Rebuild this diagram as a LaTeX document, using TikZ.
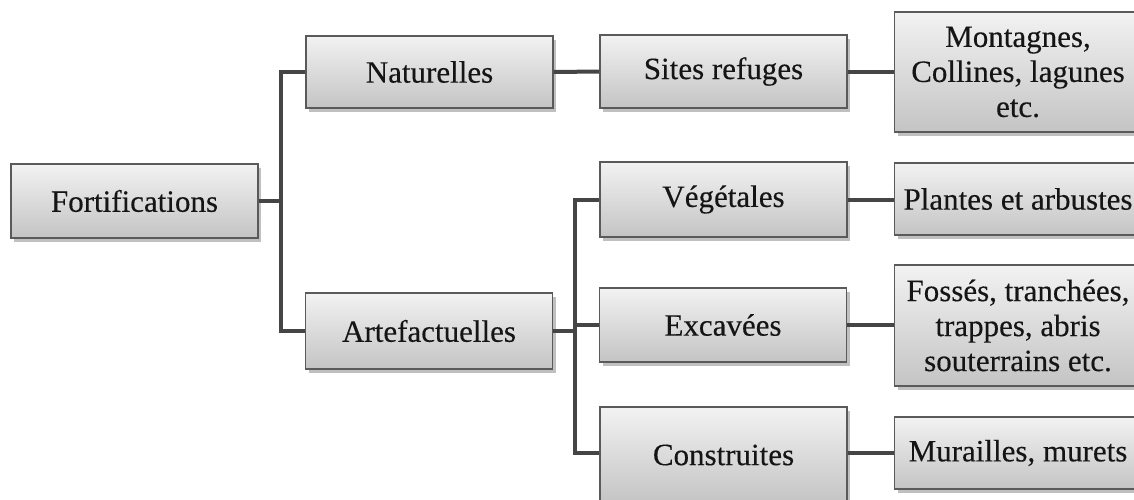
\documentclass[tikz,border=0pt]{standalone}
\usepackage{fontspec}
\setmainfont{Liberation Serif}
\usetikzlibrary{shadows}
\definecolor{boxborder}{HTML}{5A5A5A}
\definecolor{boxtop}{HTML}{F2F2F2}
\definecolor{boxbottom}{HTML}{C4C4C4}
\definecolor{linkcol}{HTML}{454545}
\definecolor{txtcol}{HTML}{151515}
\tikzset{
  box/.style={draw=boxborder, line width=1.3pt, rectangle,
    top color=boxtop, bottom color=boxbottom,
    minimum width=247pt, inner sep=2pt, align=center,
    text=txtcol, font=\fontsize{31}{35}\selectfont\addfontfeature{FakeBold=0.3},
    drop shadow={shadow xshift=3pt, shadow yshift=-4pt, opacity=0.35, fill=black!70}},
  link/.style={draw=linkcol, line width=4pt}
}
\begin{document}
\begin{tikzpicture}[x=1pt, y=-1pt]
\useasboundingbox (0,0) rectangle (1134,499);
\clip (0,0) rectangle (1134,499);
\fill[white] (0,0) rectangle (1134,499);

\node[box, minimum height=74pt] (F) at (134.5,201) {Fortifications};
\node[box, minimum height=72pt] (Nat) at (429.5,72) {Naturelles};
\node[box, minimum height=76pt] (Art) at (429,331) {Artefactuelles};
\node[box, minimum height=73pt] (Sit) at (723.5,71.5) {Sites refuges};
\node[box, minimum height=75pt] (Veg) at (723.5,199.5) {Végétales};
\node[box, minimum height=74pt] (Exc) at (723,325) {Excavées};
\node[box, minimum height=96pt] (Con) at (723.5,455) {Construites};
\node[box, minimum height=120pt] (Mon) at (1018,72) {Montagnes,\\Collines, lagunes\\etc.};
\node[box, minimum height=72pt] (Pla) at (1018,199) {Plantes et arbustes};
\node[box, minimum height=121pt] (Fos) at (1018,325.5) {Fossés, tranchées,\\trappes, abris\\souterrains etc.};
\node[box, minimum height=72pt] (Mur) at (1018,453) {Murailles, murets};

\coordinate (j1) at (281,201);
\coordinate (j2) at (575,331);

\draw[link] (F.east) -- (j1);
\draw[link] (Nat.west) -| (j1) |- (Art.west);
\draw[link] (Nat.east) -- (Sit.west);
\draw[link] (Sit.east) -- (Mon.west |- Sit.east);
\draw[link] (Art.east) -- (j2);
\draw[link] (Veg.west) -| (j2) |- (Con.west |- Mur.west);
\draw[link] (Exc.west) -- (Exc.west -| j2);
\draw[link] (Veg.east) -- (Pla.west |- Veg.east);
\draw[link] (Exc.east) -- (Fos.west |- Exc.east);
\draw[link] (Con.east |- Mur.west) -- (Mur.west);
\end{tikzpicture}
\end{document}
